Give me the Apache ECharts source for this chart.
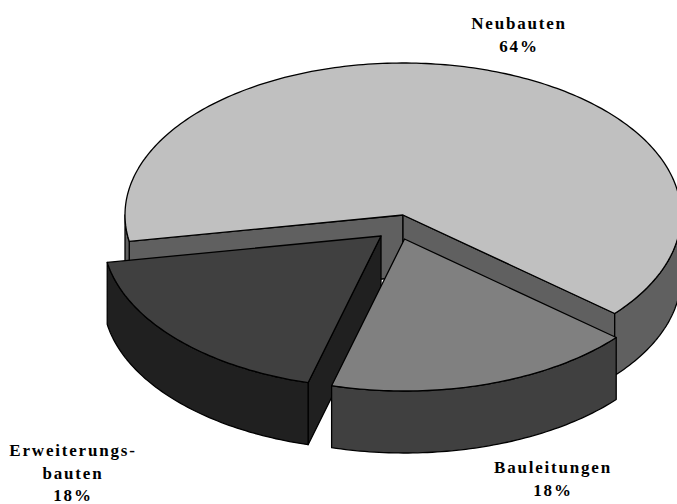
<!DOCTYPE html>
<html>
<head>
<meta charset="utf-8">
<style>
  html, body { margin: 0; padding: 0; background: #fff; }
  #chart { width: 677px; height: 504px; overflow: hidden; }
  #chart svg text { letter-spacing: 1.8px; }
</style>
<script src="https://cdn.jsdelivr.net/npm/echarts@6/dist/echarts.min.js"></script>
</head>
<body>
<div id="chart"></div>
<script>
// Auftragsarten as an exploded 3D pie, slices clockwise from Neubauten.
const categories = ['Neubauten', 'Bauleitungen', 'Erweiterungs-\nbauten'];
const shares = [64, 18, 18];

// Projection of the pie: ellipse radii, wall height, first slice start (degrees, clockwise from east).
const pie = { cx: 403, cy: 215, rx: 278, ry: 152, depth: 62, startDeg: 170 };
const explode = [[0, 0], [1.5, 24], [-22, 21]];
const topColors = ['#c0c0c0', '#808080', '#404040'];
const wallColors = ['#606060', '#404040', '#202020'];
const stacking = [0, 20, 10];
const labelAnchors = [[519, 15], [553, 459], [73, 442]];
const linePitch = 22.5;

const total = shares.reduce((a, b) => a + b, 0);

function sliceAngles(index) {
  const before = shares.slice(0, index).reduce((a, b) => a + b, 0);
  const a0 = pie.startDeg + before / total * 360;
  return [a0, a0 + shares[index] / total * 360];
}

function rimPoint(c, deg) {
  const t = deg * Math.PI / 180;
  return [c[0] + pie.rx * Math.cos(t), c[1] + pie.ry * Math.sin(t)];
}

function arcPoints(c, a0, a1) {
  const n = Math.max(2, Math.ceil(Math.abs(a1 - a0)));
  const pts = [];
  for (let i = 0; i <= n; i++) pts.push(rimPoint(c, a0 + (a1 - a0) * i / n));
  return pts;
}

function lowered(pts) {
  return pts.map(p => [p[0], p[1] + pie.depth]).reverse();
}

function renderSlice(params) {
  const i = params.dataIndex;
  const [a0, a1] = sliceAngles(i);
  const c = [pie.cx + explode[i][0], pie.cy + explode[i][1]];
  const z = stacking[i];
  const line = { stroke: '#000', lineWidth: 1.3, lineJoin: 'round' };
  const face = (points, fill, z2) => ({
    type: 'polygon', z2: z + z2,
    shape: { points },
    style: Object.assign({ fill }, line)
  });
  const children = [];

  // Cut walls: a wall is seen when its outward normal points toward the viewer.
  const cosOf = a => Math.cos(a * Math.PI / 180);
  if (cosOf(a0) < 0) {
    const edge = [c, rimPoint(c, a0)];
    children.push(face(edge.concat(lowered(edge)), wallColors[i], 1));
  }
  if (cosOf(a1) > 0) {
    const edge = [c, rimPoint(c, a1)];
    children.push(face(edge.concat(lowered(edge)), wallColors[i], 1));
  }

  // Outer wall: the parts of the rim lying on the near half of the ellipse.
  [[0, 180], [360, 540]].forEach(([lo, hi]) => {
    const from = Math.max(a0, lo);
    const to = Math.min(a1, hi);
    if (to > from) {
      const rim = arcPoints(c, from, to);
      children.push(face(rim.concat(lowered(rim)), wallColors[i], 2));
    }
  });

  // Top face.
  children.push(face([c].concat(arcPoints(c, a0, a1)), topColors[i], 3));

  // Caption: name lines followed by the share, one text per line.
  const lines = (categories[i] + '\n' + shares[i] + '%').split('\n');
  lines.forEach((text, k) => {
    children.push({
      type: 'text', z2: 50,
      style: {
        x: labelAnchors[i][0],
        y: labelAnchors[i][1] + k * linePitch,
        text,
        fill: '#000',
        font: 'bold 17px "Liberation Serif", serif',
        lineHeight: 17,
        align: 'center',
        verticalAlign: 'top'
      }
    });
  });
  return { type: 'group', children };
}

const chart = echarts.init(document.getElementById('chart'), null, {
  renderer: 'svg', width: 677, height: 504
});
chart.setOption({
  backgroundColor: '#ffffff',
  animation: false,
  series: [{
    type: 'custom',
    coordinateSystem: 'none',
    silent: true,
    renderItem: renderSlice,
    data: shares.map((v, i) => ({ name: categories[i], value: v }))
  }]
});
</script>
</body>
</html>
